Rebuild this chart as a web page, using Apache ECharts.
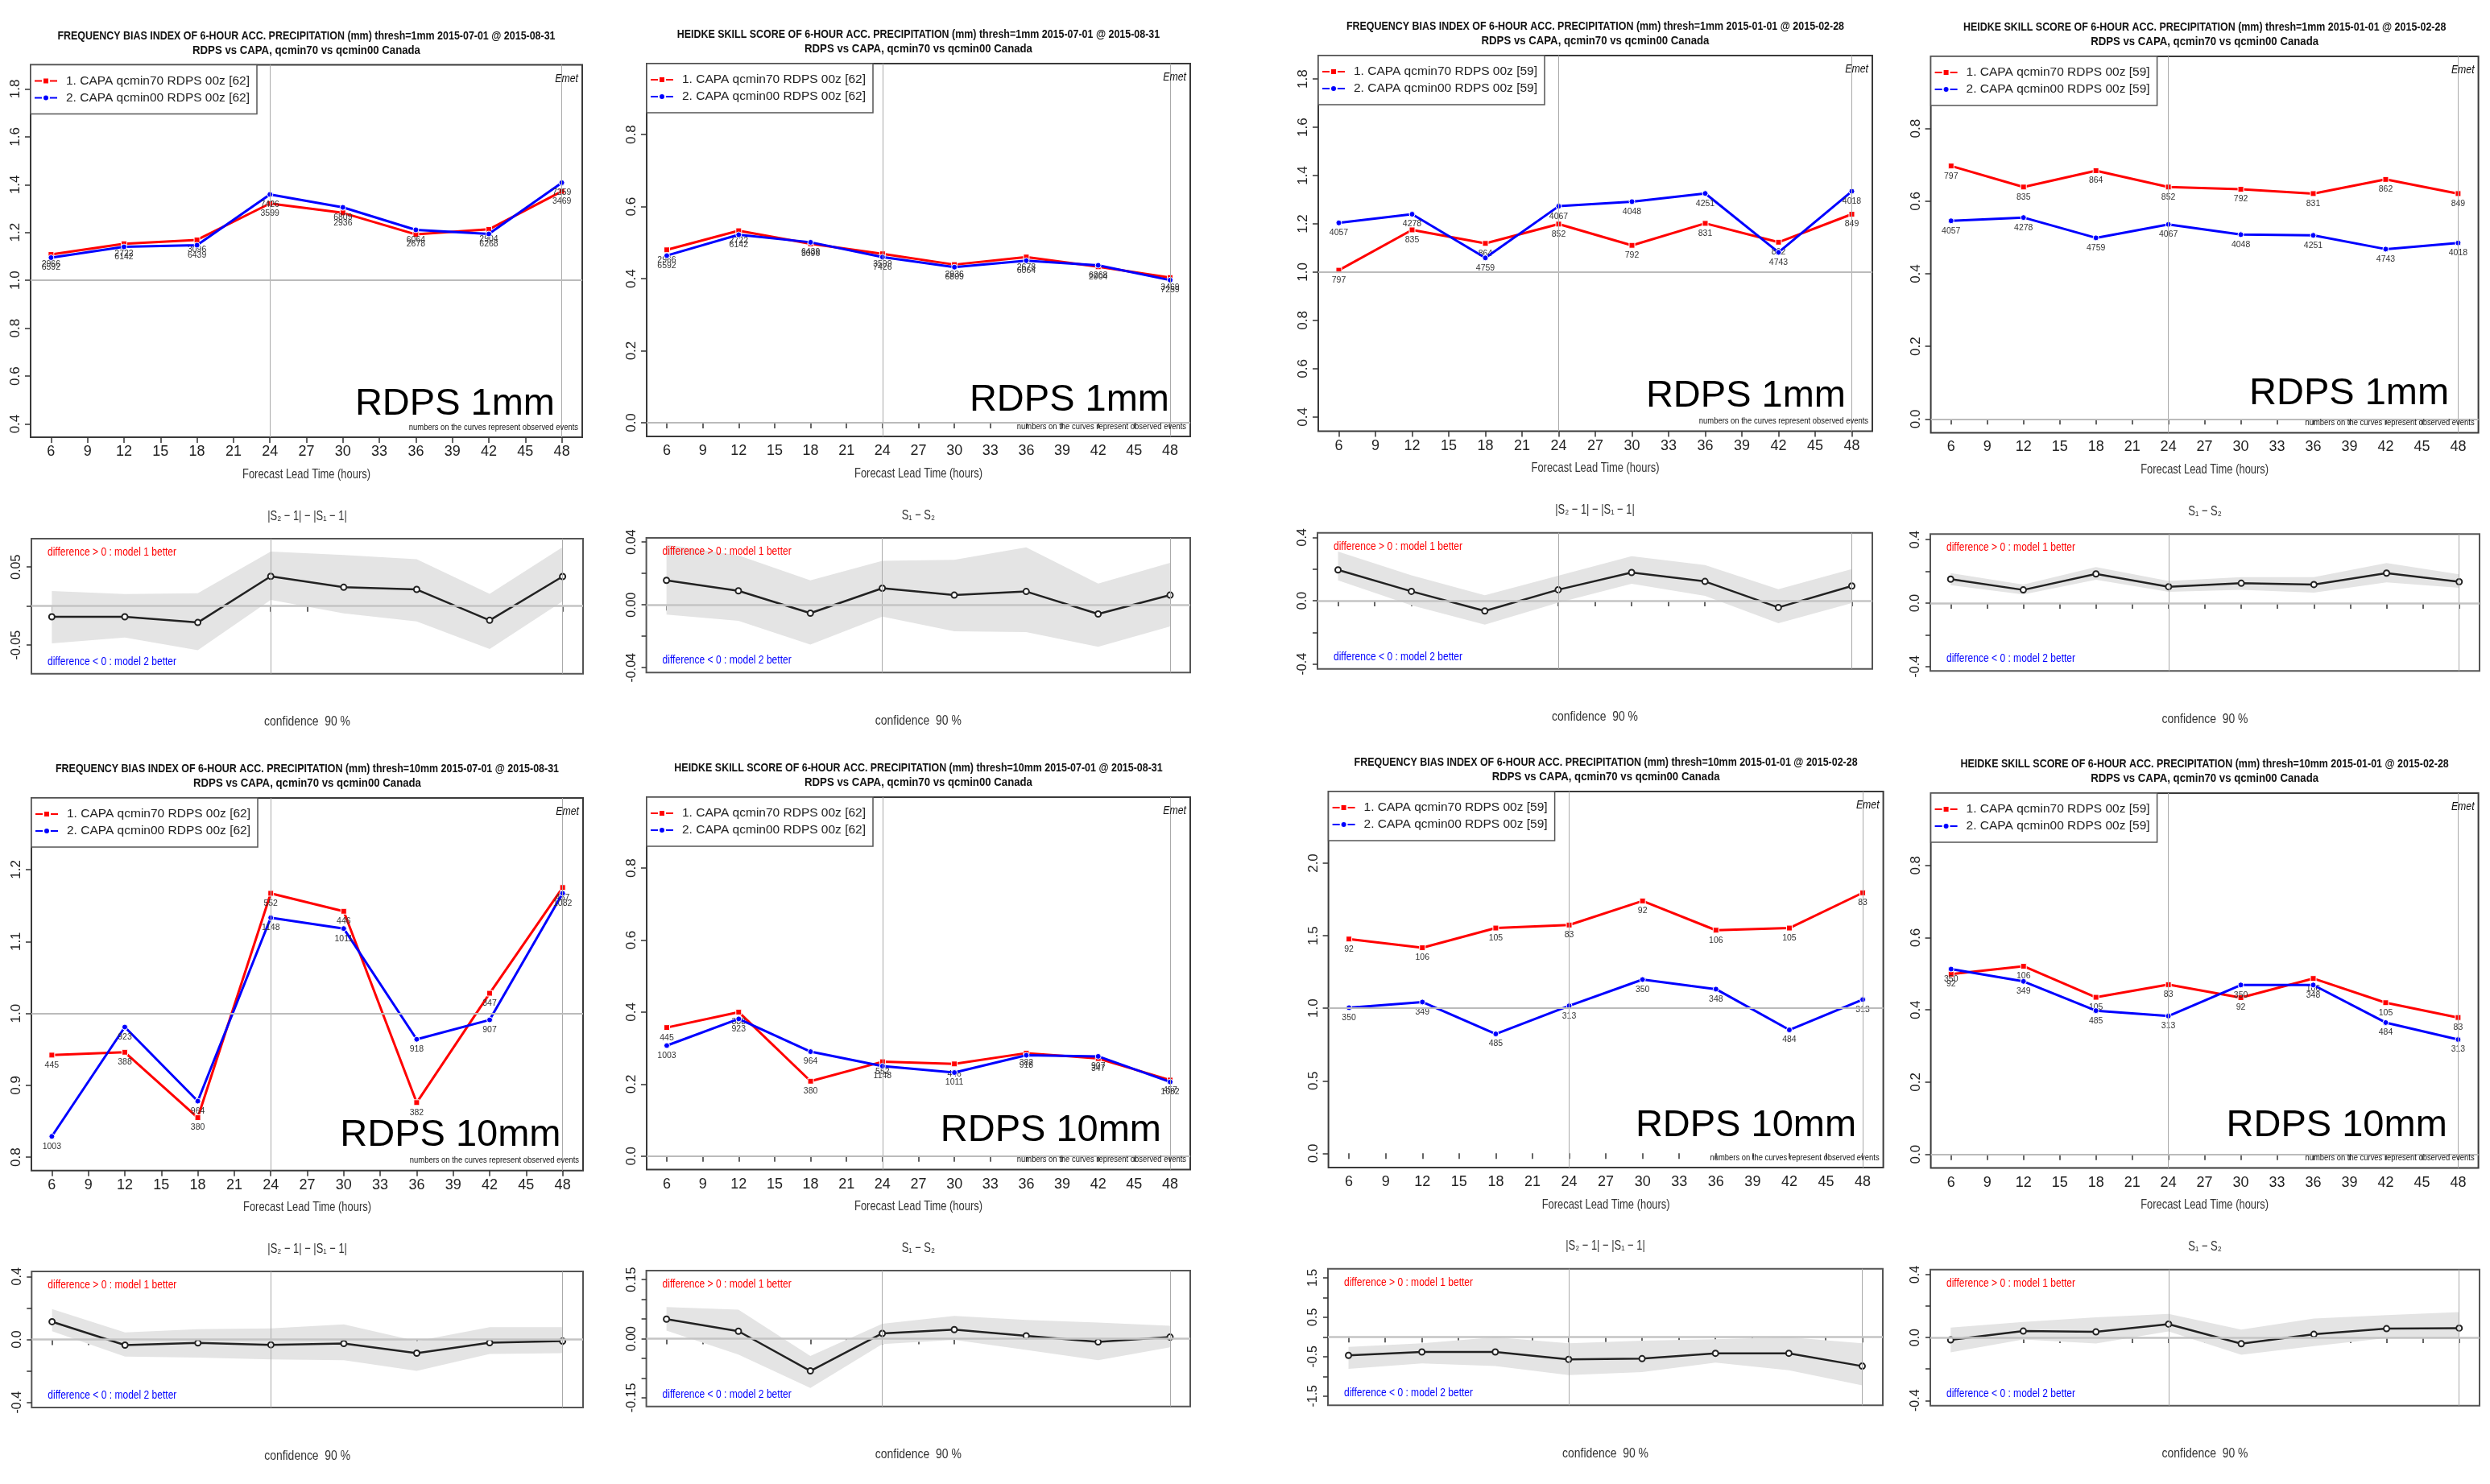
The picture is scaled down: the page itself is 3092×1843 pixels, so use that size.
<!DOCTYPE html>
<html><head><meta charset="utf-8">
<script src="https://cdn.jsdelivr.net/npm/echarts@6/dist/echarts.min.js"></script>
<style>html,body{margin:0;padding:0;background:#fff}#c{width:3092px;height:1843px}</style>
</head><body><div id="c"></div>
<script>
// ---------------- DATA ----------------
const hours = [6, 12, 18, 24, 30, 36, 42, 48];
const xTicks = [6, 9, 12, 15, 18, 21, 24, 27, 30, 33, 36, 39, 42, 45, 48];

const seriesNamesSummer = ['1. CAPA qcmin70 RDPS 00z [62]', '2. CAPA qcmin00 RDPS 00z [62]'];
const seriesNamesWinter = ['1. CAPA qcmin70 RDPS 00z [59]', '2. CAPA qcmin00 RDPS 00z [59]'];

const mainTitles = [
  'FREQUENCY BIAS INDEX OF 6-HOUR ACC. PRECIPITATION (mm) thresh=1mm 2015-07-01 @ 2015-08-31',
  'HEIDKE SKILL SCORE OF 6-HOUR ACC. PRECIPITATION (mm) thresh=1mm 2015-07-01 @ 2015-08-31',
  'FREQUENCY BIAS INDEX OF 6-HOUR ACC. PRECIPITATION (mm) thresh=1mm 2015-01-01 @ 2015-02-28',
  'HEIDKE SKILL SCORE OF 6-HOUR ACC. PRECIPITATION (mm) thresh=1mm 2015-01-01 @ 2015-02-28',
  'FREQUENCY BIAS INDEX OF 6-HOUR ACC. PRECIPITATION (mm) thresh=10mm 2015-07-01 @ 2015-08-31',
  'HEIDKE SKILL SCORE OF 6-HOUR ACC. PRECIPITATION (mm) thresh=10mm 2015-07-01 @ 2015-08-31',
  'FREQUENCY BIAS INDEX OF 6-HOUR ACC. PRECIPITATION (mm) thresh=10mm 2015-01-01 @ 2015-02-28',
  'HEIDKE SKILL SCORE OF 6-HOUR ACC. PRECIPITATION (mm) thresh=10mm 2015-01-01 @ 2015-02-28'
];
const subTitle = 'RDPS vs CAPA, qcmin70 vs qcmin00 Canada';

// observed events (numbers on curves)
const obs1Sum70 = [2966, 2722, 3096, 3599, 2936, 2678, 2904, 3469];
const obs1Sum00 = [6592, 6142, 6439, 7426, 6809, 6064, 6268, 7259];
const obs1Win70 = [797, 835, 864, 852, 792, 831, 862, 849];
const obs1Win00 = [4057, 4278, 4759, 4067, 4048, 4251, 4743, 4018];
const obs10Sum70 = [445, 388, 380, 552, 446, 382, 347, 457];
const obs10Sum00 = [1003, 923, 964, 1148, 1011, 918, 907, 1082];
const obs10Win70 = [92, 106, 105, 83, 92, 106, 105, 83];
const obs10Win00 = [350, 349, 485, 313, 350, 348, 484, 313];

// scores
const fbi1Sum70 = [1.108, 1.153, 1.169, 1.321, 1.282, 1.192, 1.213, 1.372];
const fbi1Sum00 = [1.095, 1.140, 1.147, 1.359, 1.305, 1.211, 1.194, 1.408];
const hss1Sum70 = [0.480, 0.533, 0.497, 0.469, 0.439, 0.460, 0.433, 0.403];
const hss1Sum00 = [0.464, 0.522, 0.501, 0.460, 0.432, 0.450, 0.437, 0.396];
const fbi1Win70 = [1.008, 1.175, 1.119, 1.199, 1.111, 1.202, 1.124, 1.240];
const fbi1Win00 = [1.204, 1.240, 1.059, 1.273, 1.292, 1.326, 1.082, 1.335];
const hss1Win70 = [0.697, 0.639, 0.684, 0.639, 0.633, 0.621, 0.660, 0.621];
const hss1Win00 = [0.546, 0.555, 0.499, 0.536, 0.508, 0.506, 0.468, 0.485];
const fbi10Sum70 = [0.942, 0.946, 0.855, 1.167, 1.142, 0.876, 1.028, 1.175];
const fbi10Sum00 = [0.829, 0.981, 0.878, 1.133, 1.118, 0.964, 0.991, 1.167];
const hss10Sum70 = [0.357, 0.400, 0.208, 0.262, 0.256, 0.286, 0.271, 0.211];
const hss10Sum00 = [0.307, 0.381, 0.290, 0.250, 0.232, 0.280, 0.277, 0.206];
const fbi10Win70 = [1.477, 1.417, 1.553, 1.574, 1.740, 1.538, 1.553, 1.796];
const fbi10Win00 = [1.004, 1.043, 0.823, 1.017, 1.198, 1.132, 0.851, 1.060];
const hss10Win70 = [0.499, 0.521, 0.435, 0.470, 0.434, 0.487, 0.420, 0.379];
const hss10Win00 = [0.513, 0.479, 0.398, 0.383, 0.469, 0.469, 0.365, 0.318];

// y tick labels
const yTicksFbi1 = [0.4, 0.6, 0.8, 1.0, 1.2, 1.4, 1.6, 1.8];
const yTicksHss = [0.0, 0.2, 0.4, 0.6, 0.8];
const yTicksFbi10Sum = [0.8, 0.9, 1.0, 1.1, 1.2];
const yTicksFbi10Win = [0.0, 0.5, 1.0, 1.5, 2.0];

// difference panels: value, 90% confidence band low / high
const dFbi1Sum = [-0.0137, -0.0137, -0.021, 0.0381, 0.0241, 0.0213, -0.0182, 0.0378];
const dFbi1SumLo = [-0.0478, -0.0402, -0.0564, 0.0079, -0.0093, -0.0196, -0.055, 0.0062];
const dFbi1SumHi = [0.0192, 0.0155, 0.0165, 0.0698, 0.0653, 0.0601, 0.0158, 0.0756];
const dHss1Sum = [0.0156, 0.0089, -0.0053, 0.0106, 0.0062, 0.0085, -0.0058, 0.0062];
const dHss1SumLo = [-0.0062, -0.0101, -0.0253, -0.0075, -0.0168, -0.0173, -0.0267, -0.0138];
const dHss1SumHi = [0.0383, 0.0315, 0.0156, 0.028, 0.0287, 0.0366, 0.0135, 0.0267];
const dFbi1Win = [0.195, 0.0593, -0.0644, 0.0695, 0.178, 0.122, -0.0424, 0.0932];
const dFbi1WinLo = [0.129, -0.0288, -0.151, -0.0119, 0.107, 0.0305, -0.142, -0.0153];
const dFbi1WinHi = [0.310, 0.161, 0.034, 0.158, 0.281, 0.225, 0.073, 0.200];
const dHss1Win = [0.1505, 0.0829, 0.184, 0.103, 0.125, 0.117, 0.189, 0.134];
const dHss1WinLo = [0.113, 0.054, 0.147, 0.071, 0.083, 0.066, 0.130, 0.096];
const dHss1WinHi = [0.189, 0.117, 0.227, 0.139, 0.164, 0.164, 0.252, 0.181];
const dFbi10Sum = [0.1128, -0.0359, -0.0222, -0.0342, -0.0256, -0.0872, -0.0205, -0.0103];
const dFbi10SumLo = [0.053, -0.109, -0.115, -0.126, -0.132, -0.200, -0.0923, -0.0872];
const dFbi10SumHi = [0.193, 0.0444, 0.065, 0.070, 0.0957, -0.0103, 0.0786, 0.0786];
const dHss10Sum = [0.0498, 0.0191, -0.0818, 0.0136, 0.0232, 0.0075, -0.0082, 0.0041];
const dHss10SumLo = [0.0205, -0.0402, -0.125, -0.0136, -0.0027, -0.0286, -0.0545, -0.0218];
const dHss10SumHi = [0.0805, 0.0736, -0.0436, 0.0382, 0.058, 0.0477, 0.041, 0.0327];
const dFbi10Win = [-0.469, -0.381, -0.381, -0.571, -0.551, -0.415, -0.415, -0.741];
const dFbi10WinLo = [-0.810, -0.673, -0.741, -0.966, -0.891, -0.653, -0.844, -1.231];
const dFbi10WinHi = [-0.252, -0.163, -0.007, -0.163, -0.095, -0.061, -0.007, -0.163];
const dHss10Win = [-0.0154, 0.041, 0.0358, 0.0853, -0.0392, 0.0205, 0.0563, 0.0597];
const dHss10WinLo = [-0.094, -0.012, -0.0375, 0.039, -0.109, -0.0546, -0.0034, 0.0];
const dHss10WinHi = [0.063, 0.099, 0.128, 0.150, 0.051, 0.121, 0.142, 0.162];

const dTicks05 = [-0.05, 0, 0.05];
const dLabels05 = [-0.05, 0.05];
const dTicks04 = [-0.04, -0.02, 0, 0.02, 0.04];
const dLabels04 = [-0.04, 0, 0.04];
const dTicks4 = [-0.4, -0.2, 0, 0.2, 0.4];
const dLabels4 = [-0.4, 0, 0.4];
const dTicks15 = [-0.15, -0.1, -0.05, 0, 0.05, 0.1, 0.15];
const dLabels15 = [-0.15, 0, 0.15];
const dTicks1p5 = [-1.5, -1, -0.5, 0, 0.5, 1, 1.5];
const dLabels1p5 = [-1.5, -0.5, 0.5, 1.5];

// ---------------- PANEL DEFINITIONS ----------------
const mainPanels = [
  {v70: fbi1Sum70, v00: fbi1Sum00, o70: obs1Sum70, o00: obs1Sum00, ticks: yTicksFbi1, ref: 1, names: seriesNamesSummer, tag: 'RDPS 1mm'},
  {v70: hss1Sum70, v00: hss1Sum00, o70: obs1Sum70, o00: obs1Sum00, ticks: yTicksHss, ref: 0, names: seriesNamesSummer, tag: 'RDPS 1mm'},
  {v70: fbi1Win70, v00: fbi1Win00, o70: obs1Win70, o00: obs1Win00, ticks: yTicksFbi1, ref: 1, names: seriesNamesWinter, tag: 'RDPS 1mm'},
  {v70: hss1Win70, v00: hss1Win00, o70: obs1Win70, o00: obs1Win00, ticks: yTicksHss, ref: 0, names: seriesNamesWinter, tag: 'RDPS 1mm'},
  {v70: fbi10Sum70, v00: fbi10Sum00, o70: obs10Sum70, o00: obs10Sum00, ticks: yTicksFbi10Sum, ref: 1, names: seriesNamesSummer, tag: 'RDPS 10mm'},
  {v70: hss10Sum70, v00: hss10Sum00, o70: obs10Sum70, o00: obs10Sum00, ticks: yTicksHss, ref: 0, names: seriesNamesSummer, tag: 'RDPS 10mm'},
  {v70: fbi10Win70, v00: fbi10Win00, o70: obs10Win70, o00: obs10Win00, ticks: yTicksFbi10Win, ref: 1, names: seriesNamesWinter, tag: 'RDPS 10mm'},
  {v70: hss10Win70, v00: hss10Win00, o70: obs10Win70, o00: obs10Win00, ticks: yTicksHss, ref: 0, names: seriesNamesWinter, tag: 'RDPS 10mm'}
];
const diffPanels = [
  {d: dFbi1Sum, lo: dFbi1SumLo, hi: dFbi1SumHi, ticks: dTicks05, labels: dLabels05, dec: 2, fbi: true},
  {d: dHss1Sum, lo: dHss1SumLo, hi: dHss1SumHi, ticks: dTicks04, labels: dLabels04, dec: 2, fbi: false},
  {d: dFbi1Win, lo: dFbi1WinLo, hi: dFbi1WinHi, ticks: dTicks4, labels: dLabels4, dec: 1, fbi: true},
  {d: dHss1Win, lo: dHss1WinLo, hi: dHss1WinHi, ticks: dTicks4, labels: dLabels4, dec: 1, fbi: false},
  {d: dFbi10Sum, lo: dFbi10SumLo, hi: dFbi10SumHi, ticks: dTicks4, labels: dLabels4, dec: 1, fbi: true},
  {d: dHss10Sum, lo: dHss10SumLo, hi: dHss10SumHi, ticks: dTicks15, labels: dLabels15, dec: 2, fbi: false},
  {d: dFbi10Win, lo: dFbi10WinLo, hi: dFbi10WinHi, ticks: dTicks1p5, labels: dLabels1p5, dec: 1, fbi: true},
  {d: dHss10Win, lo: dHss10WinLo, hi: dHss10WinHi, ticks: dTicks4, labels: dLabels4, dec: 1, fbi: false}
];

// ---------------- LAYOUT (pixels) ----------------
const X_MIN = 4.32, X_MAX = 49.68;
const mainLayout = [
  {rect: [38, 80.5, 723, 543], yr: [0.3446, 1.9005], tag: [34, 24]},
  {rect: [803, 79, 1478, 542], yr: [-0.038, 0.997], tag: [26, 28]},
  {rect: [1637, 69, 2325, 535.6], yr: [0.341, 1.897], tag: [33, 26.5]},
  {rect: [2397.6, 70, 3077.6, 537.5], yr: [-0.038, 0.999], tag: [36.5, 31.5]},
  {rect: [39, 991, 724, 1453.7], yr: [0.7815, 1.2996], tag: [27.5, 26.7]},
  {rect: [803, 990, 1478, 1452.6], yr: [-0.0377, 0.997], tag: [36, 31.5]},
  {rect: [1649.6, 983, 2338.6, 1450], yr: [-0.098, 2.494], tag: [33.5, 35]},
  {rect: [2397.6, 985, 3077.6, 1450.6], yr: [-0.0376, 1.0], tag: [38.8, 35.8]}
];
const diffLayout = [
  {rect: [39, 669, 724, 836.7], yr: [-0.0866, 0.0863]},
  {rect: [802.6, 668, 1478, 835.3], yr: [-0.0431, 0.0426]},
  {rect: [1636, 661.7, 2325, 830.7], yr: [-0.4305, 0.429]},
  {rect: [2397, 663.3, 3079, 833.3], yr: [-0.428, 0.4347]},
  {rect: [39.3, 1579, 724, 1748], yr: [-0.432, 0.432]},
  {rect: [802.6, 1578, 1478, 1746.7], yr: [-0.172, 0.173]},
  {rect: [1649, 1575.7, 2338, 1745.3], yr: [-1.735, 1.728]},
  {rect: [2397, 1576.7, 3079, 1745.7], yr: [-0.433, 0.432]}
];

const REG = "'Liberation Sans',Arial,Helvetica,sans-serif";
const INK = '#222';

const grid = [], xAxis = [], yAxis = [], series = [], legend = [], graphic = [];

function txt(x, y, text, font, fill, align, sx) {
  graphic.push({type: 'text', x: x, y: y, scaleX: sx, silent: true, z: 50,
    style: {text: text, font: font, fill: fill || INK, textAlign: align || 'center', textVerticalAlign: 'middle'}});
}
function pairs(vals) { return hours.map((h, k) => [h, vals[k]]); }

let gi = 0;
// main panels
mainPanels.forEach((p, i) => {
  const L = mainLayout[i], [l, t, r, b] = L.rect, cx = (l + r) / 2;
  grid.push({left: l, top: t, width: r - l, height: b - t, show: true, borderColor: '#3a3a3a', borderWidth: 2, backgroundColor: 'transparent'});
  xAxis.push({gridIndex: gi, type: 'value', min: X_MIN, max: X_MAX, splitLine: {show: false}, axisLine: {show: false},
    axisTick: {show: true, length: 7, customValues: xTicks, lineStyle: {color: '#333', width: 1.5}},
    axisLabel: {show: true, customValues: xTicks, margin: 9, fontSize: 18, fontFamily: REG, color: INK}});
  yAxis.push({gridIndex: gi, type: 'value', min: L.yr[0], max: L.yr[1], splitLine: {show: false}, axisLine: {show: false},
    axisTick: {show: true, length: 7, customValues: p.ticks, lineStyle: {color: '#333', width: 1.5}},
    axisLabel: {show: true, customValues: p.ticks, rotate: 90, margin: 10, fontSize: 17, fontFamily: REG, color: INK,
      formatter: v => Number(v).toFixed(1)}});
  series.push({type: 'line', xAxisIndex: gi, yAxisIndex: gi, data: [], silent: true, z: 1,
    markLine: {silent: true, symbol: 'none', animation: false, label: {show: false},
      data: [{xAxis: 24, lineStyle: {color: '#aaa', width: 1, type: 'solid'}},
             {xAxis: 48, lineStyle: {color: '#aaa', width: 1, type: 'solid'}},
             {yAxis: p.ref, lineStyle: {color: '#bbb', width: 2, type: 'solid'}}]}});
  const lab = (arr) => ({show: true, position: 'bottom', distance: 3, fontSize: 10.5, fontFamily: REG, color: '#333',
    formatter: q => String(arr[q.dataIndex])});
  series.push({name: p.names[0], type: 'line', xAxisIndex: gi, yAxisIndex: gi, data: pairs(p.v70), z: 3,
    symbol: 'rect', symbolSize: 7, lineStyle: {color: '#ff0000', width: 3},
    itemStyle: {color: '#ff0000', borderColor: '#fff', borderWidth: 1}, label: lab(p.o70)});
  series.push({name: p.names[1], type: 'line', xAxisIndex: gi, yAxisIndex: gi, data: pairs(p.v00), z: 4,
    symbol: 'circle', symbolSize: 7, lineStyle: {color: '#0000ff', width: 3},
    itemStyle: {color: '#0000ff', borderColor: '#fff', borderWidth: 1}, label: lab(p.o00)});
  legend.push({data: p.names, orient: 'vertical', left: l, top: t, itemWidth: 28, itemHeight: 10, itemGap: 1,
    padding: [10, 9, 10, 4], borderColor: '#555', borderWidth: 1.5, backgroundColor: '#fff', selectedMode: false,
    textStyle: {fontSize: 15.5, lineHeight: 20, fontFamily: REG, color: INK, padding: [0, 0, 0, 6]}});
  txt(cx, t - 36, mainTitles[i], 'bold 15px ' + REG, '#111', 'center', 0.83);
  txt(cx, t - 18, subTitle, 'bold 15px ' + REG, '#111', 'center', 0.88);
  txt(r - 5, t + 17, 'Emet', 'italic 15px ' + REG, '#111', 'right', 0.82);
  txt(r - L.tag[0], b - L.tag[1] - 17, p.tag, '47px ' + REG, '#000', 'right', 1);
  txt(r - 5, b - 12.5, 'numbers on the curves represent observed events', '11.5px ' + REG, '#111', 'right', 0.82);
  txt(cx, b + 46, 'Forecast Lead Time (hours)', '17px ' + REG, '#333', 'center', 0.76);
  gi++;
});

// difference panels
diffPanels.forEach((p, i) => {
  const L = diffLayout[i], [l, t, r, b] = L.rect, cx = (l + r) / 2;
  grid.push({left: l, top: t, width: r - l, height: b - t, show: true, borderColor: '#555', borderWidth: 2, backgroundColor: 'transparent'});
  xAxis.push({gridIndex: gi, type: 'value', min: X_MIN, max: X_MAX, splitLine: {show: false}, axisLine: {show: false},
    axisTick: {show: true, length: 7, customValues: xTicks, lineStyle: {color: '#333', width: 1.5}},
    axisLabel: {show: false}});
  yAxis.push({gridIndex: gi, type: 'value', min: L.yr[0], max: L.yr[1], splitLine: {show: false}, axisLine: {show: false},
    axisTick: {show: true, length: 6, customValues: p.ticks, lineStyle: {color: '#333', width: 1.5}},
    axisLabel: {show: true, customValues: p.labels, rotate: 90, margin: 10, fontSize: 16, fontFamily: REG, color: INK,
      formatter: v => Number(v).toFixed(p.dec)}});
  // confidence band as one polygon through the axes' scales
  series.push({type: 'custom', xAxisIndex: gi, yAxisIndex: gi, silent: true, z: 1,
    data: hours.map((h, k) => [h, p.lo[k], p.hi[k]]), encode: {x: 0, y: [1, 2]},
    renderItem: (params, api) => {
      if (params.dataIndex !== 0) return null;
      const up = hours.map((h, k) => api.coord([h, p.hi[k]]));
      const dn = hours.map((h, k) => api.coord([h, p.lo[k]])).reverse();
      return {type: 'polygon', shape: {points: up.concat(dn)}, style: {fill: '#e4e4e4', stroke: null}};
    }});
  series.push({type: 'line', xAxisIndex: gi, yAxisIndex: gi, data: [], silent: true, z: 2,
    markLine: {silent: true, symbol: 'none', animation: false, label: {show: false},
      data: [{xAxis: 24, lineStyle: {color: '#aaa', width: 1, type: 'solid'}},
             {xAxis: 48, lineStyle: {color: '#aaa', width: 1, type: 'solid'}},
             {yAxis: 0, lineStyle: {color: '#c4c4c4', width: 2.5, type: 'solid'}}]}});
  series.push({type: 'line', xAxisIndex: gi, yAxisIndex: gi, data: pairs(p.d), z: 3, silent: true,
    symbol: 'emptyCircle', symbolSize: 7, lineStyle: {color: '#222', width: 2.5},
    itemStyle: {color: '#222', borderColor: '#222', borderWidth: 1.5}});
  txt(cx, t - 28, p.fbi ? '|S\u2082 \u2212 1| \u2212 |S\u2081 \u2212 1|' : 'S\u2081 \u2212 S\u2082', '17px ' + REG, '#333', 'center', 0.76);
  txt(cx, b + 60, 'confidence  90 %', '17px ' + REG, '#333', 'center', 0.82);
  txt(l + 20, t + 17, 'difference > 0 : model 1 better', '14px ' + REG, '#ff0000', 'left', 0.86);
  txt(l + 20, b - 15, 'difference < 0 : model 2 better', '14px ' + REG, '#0000ff', 'left', 0.86);
  gi++;
});

const chart = echarts.init(document.getElementById('c'), null, {renderer: 'canvas'});
chart.setOption({animation: false, backgroundColor: '#fff', grid, xAxis, yAxis, series, legend, graphic});
</script>
</body></html>
